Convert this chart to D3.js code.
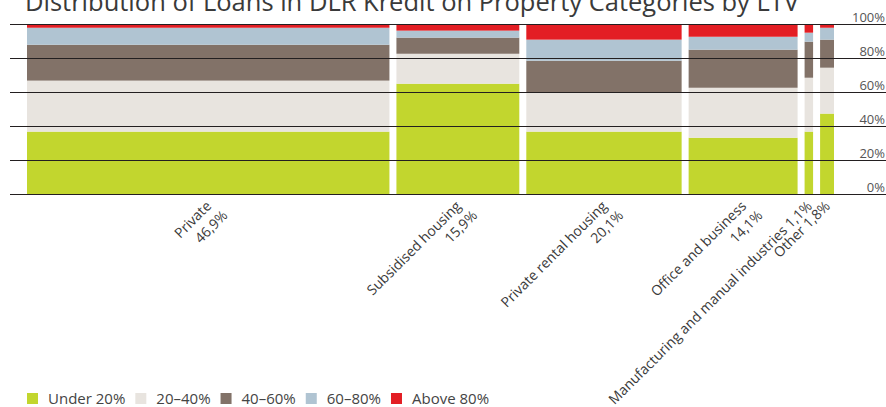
<!DOCTYPE html>
<html>
<head>
<meta charset="utf-8">
<script src="https://cdn.jsdelivr.net/npm/d3@7/dist/d3.min.js"></script>
<style>
  html, body { margin: 0; padding: 0; background: #fff; }
  svg { display: block; font-family: "Open Sans", "Noto Sans", sans-serif; }
</style>
</head>
<body>
<svg id="chart" width="886" height="407"></svg>
<script>
// Loan portfolio by property category (bar width = share of loans)
const categories = ["Private", "Subsidised housing", "Private rental housing", "Office and business", "Manufacturing and manual industries", "Other"];
const shares = [46.9, 15.9, 20.1, 14.1, 1.1, 1.8];
const wrapLabel = [true, true, true, true, false, false];

// LTV bands, stacked bottom to top (percent of each category)
const bands = ["Under 20%", "20–40%", "40–60%", "60–80%", "Above 80%"];
const under20 = [36.7, 64.9, 36.7, 33.1, 36.7, 47.3];
const ltv20to40 = [30.0, 17.6, 23.3, 29.4, 31.7, 27.0];
const ltv40to60 = [21.1, 9.5, 18.4, 22.4, 21.2, 16.5];
const ltv60to80 = [10.0, 4.1, 12.4, 7.6, 5.3, 7.0];
const above80 = [2.2, 3.9, 9.2, 7.5, 5.1, 2.2];
const bandColors = ["#c2d62e", "#e8e4df", "#827268", "#b0c4d2", "#e31e24"];

const yTicks = [0, 20, 40, 60, 80, 100];
const title = "Distribution of Loans in DLR Kredit on Property Categories by LTV";

const svg = d3.select("#chart");
const gap = 7;
const plotLeft = 27, plotRight = 834;
const gridLeft = 10, gridRight = 886;

const rows = categories.map((c, i) => ({
  category: c, share: shares[i], wrap: wrapLabel[i],
  [bands[0]]: under20[i], [bands[1]]: ltv20to40[i], [bands[2]]: ltv40to60[i],
  [bands[3]]: ltv60to80[i], [bands[4]]: above80[i]
}));

// cumulative share -> x position (gaps between columns)
let cum = 0;
rows.forEach((r, i) => { r.start = cum; cum += r.share; r.index = i; });
const total = cum;
const x = d3.scaleLinear().domain([0, total]).range([plotLeft, plotRight - gap * (rows.length - 1)]);
const y = d3.scaleLinear().domain([0, 100]).range([194, 24]);
const color = d3.scaleOrdinal().domain(bands).range(bandColors);

const stacked = d3.stack().keys(bands)(rows);

// title (runs off the top edge)
svg.append("text")
  .attr("x", 25).attr("y", 11)
  .attr("font-size", 25.5).attr("fill", "#3a3a3a")
  .text(title);

// bars
svg.append("g").selectAll("g")
  .data(stacked).join("g")
  .attr("fill", d => color(d.key))
  .selectAll("rect")
  .data(d => d).join("rect")
  .attr("x", d => x(d.data.start) + d.data.index * gap)
  .attr("width", d => x(d.data.start + d.data.share) - x(d.data.start))
  .attr("y", d => y(d[1]))
  .attr("height", d => y(d[0]) - y(d[1]));

// gridlines drawn over the bars, with labels above at the right
const yAxis = d3.axisRight(y).tickValues(yTicks).tickSize(0).tickFormat(d => d + "%");
const grid = svg.append("g");
grid.selectAll("line").data(yTicks).join("line")
  .attr("x1", gridLeft).attr("x2", gridRight)
  .attr("y1", d => Math.round(y(d)) + 0.5).attr("y2", d => Math.round(y(d)) + 0.5)
  .attr("stroke", "#231f20").attr("stroke-width", 1.2);
const ax = svg.append("g").attr("transform", `translate(${885},0)`).call(yAxis);
ax.select(".domain").remove();
ax.selectAll("text")
  .attr("x", 0).attr("dy", null).attr("y", -3)
  .attr("text-anchor", "end")
  .attr("font-family", "'Open Sans', sans-serif")
  .attr("font-size", 13).attr("fill", "#555");

// category labels, rotated
const fmt = v => d3.format(".1f")(v).replace(".", ",") + "%";
const labels = svg.append("g").selectAll("text")
  .data(rows).join("text")
  .attr("transform", d => {
    const cx = x(d.start) + d.index * gap + (x(d.start + d.share) - x(d.start)) / 2;
    return `translate(${cx + 4},${207}) rotate(-45)`;
  })
  .attr("text-anchor", "end")
  .attr("font-size", 14).attr("fill", "#3a3a3a");
labels.each(function(d) {
  const t = d3.select(this);
  if (d.wrap) {
    t.append("tspan").attr("x", 0).attr("dy", 0).text(d.category);
    t.append("tspan").attr("x", 0).attr("dx", "0.35em").attr("dy", "1.3em").text(fmt(d.share));
  } else {
    t.append("tspan").attr("x", 0).text(d.category + " " + fmt(d.share));
  }
});

// legend
const legend = svg.append("g").attr("transform", "translate(27,393)");
let lx = 0;
bands.forEach((b, i) => {
  const g = legend.append("g").attr("transform", `translate(${lx},0)`);
  g.append("rect").attr("width", 11).attr("height", 11).attr("fill", color(b));
  const t = g.append("text").attr("x", 21).attr("y", 11)
    .attr("font-size", 15).attr("fill", "#444").text(b);
  lx += 21 + t.node().getComputedTextLength() + 10;
});
</script>
</body>
</html>
